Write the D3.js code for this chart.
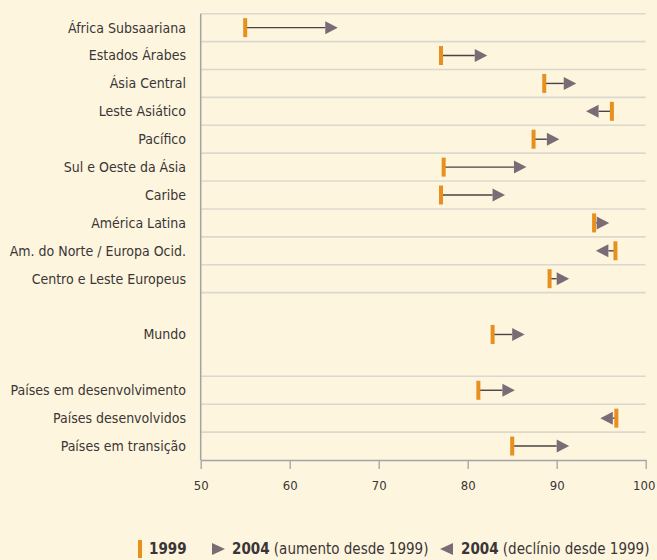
<!DOCTYPE html>
<html><head><meta charset="utf-8">
<script src="https://cdn.jsdelivr.net/npm/d3@7"></script>
<style>
html,body{margin:0;padding:0;background:#fdf5de;}
svg{display:block;}
text{font-family:"Liberation Sans Narrow","DejaVu Sans Condensed","Roboto",sans-serif;fill:#3a3536;}
</style></head>
<body><svg id="c" width="657" height="560"></svg>
<script>
const regions = ["África Subsaariana","Estados Árabes","Ásia Central","Leste Asiático","Pacífico","Sul e Oeste da Ásia","Caribe","América Latina","Am. do Norte / Europa Ocid.","Centro e Leste Europeus"];
const world = ["Mundo"];
const groups = ["Países em desenvolvimento","Países desenvolvidos","Países em transição"];
const categories = regions.concat(world, groups);
const values1999 = [55.0,77.0,88.6,96.2,87.4,77.3,77.0,94.2,96.6,89.2, 82.8, 81.2,96.7,85.0];
const values2004 = [65.4,82.2,92.2,93.3,90.3,86.6,84.2,95.9,94.4,91.4, 86.4, 85.3,94.9,91.4];
const xTicks = [50,60,70,80,90,100];

const svg = d3.select("#c");
const x = d3.scaleLinear().domain([50,100]).range([200.7,645.7]);
const y = d3.scaleLinear().domain([0,16]).range([13.7,460]);

// row position (in row units) for each category
function rowCenter(i){
  if(i < regions.length) return i + 0.5;
  if(i < regions.length + world.length) return regions.length + 1.5;
  return regions.length + 3 + (i - regions.length - world.length) + 0.5;
}
const gridRows = d3.range(0, regions.length+1).concat([13,14,15]);

svg.append("g").selectAll("line").data(gridRows).join("line")
  .attr("x1", x(50)).attr("x2", x(100))
  .attr("y1", d=>y(d)).attr("y2", d=>y(d))
  .attr("stroke","#dcd8cc").attr("stroke-width",1.6);

// x axis
const xAxis = svg.append("g").attr("transform",`translate(0,${y(16)})`)
  .call(d3.axisBottom(x).tickValues(xTicks).tickSize(9).tickSizeOuter(0).tickPadding(12));
xAxis.select(".domain").attr("stroke","#a3a3a8").attr("stroke-width",1.5);
xAxis.selectAll(".tick line").attr("stroke","#a3a3a8").attr("stroke-width",1.3);
xAxis.selectAll(".tick text").attr("font-size",13).attr("fill","#3a3536")
  .attr("font-family",'"Liberation Sans Narrow","DejaVu Sans Condensed",sans-serif');
xAxis.selectAll(".tick text").filter(d=>d===100).attr("dx",-2);

// y axis line
svg.append("line").attr("x1",x(50)).attr("x2",x(50)).attr("y1",y(0)).attr("y2",y(16))
  .attr("stroke","#a3a3a8").attr("stroke-width",1.5);

// labels
svg.append("g").selectAll("text").data(categories).join("text")
  .attr("x",186).attr("y",(d,i)=>y(rowCenter(i)))
  .attr("dy","0.35em").attr("text-anchor","end").attr("font-size",14).text(d=>d);

const triW = 12.5, triH = 13;
const marks = svg.append("g").selectAll("g").data(categories).join("g");
marks.append("line")
  .attr("x1",(d,i)=>x(values1999[i]))
  .attr("x2",(d,i)=>{const dir = values2004[i]>=values1999[i]?1:-1; return x(values2004[i]) - dir*triW;})
  .attr("y1",(d,i)=>y(rowCenter(i))).attr("y2",(d,i)=>y(rowCenter(i)))
  .attr("stroke","#4a4244").attr("stroke-width",1.4);
marks.append("path")
  .attr("d",(d,i)=>{
    const dir = values2004[i]>=values1999[i]?1:-1;
    const tx = x(values2004[i]), cy = y(rowCenter(i));
    return `M${tx},${cy}L${tx-dir*triW},${cy-triH/2}L${tx-dir*triW},${cy+triH/2}Z`;
  }).attr("fill","#7b6b75");
marks.append("rect")
  .attr("x",(d,i)=>x(values1999[i])-2).attr("y",(d,i)=>y(rowCenter(i))-9.5)
  .attr("width",4).attr("height",19).attr("fill","#e8901e");

// legend
const lg = svg.append("g");
const ly = 549;
lg.append("rect").attr("x",138).attr("y",ly-9).attr("width",4).attr("height",18).attr("fill","#e8901e");
lg.append("text").attr("x",149).attr("y",ly).attr("dy","0.35em").attr("font-size",15).attr("font-weight","bold").text("1999");
lg.append("path").attr("d",`M225,${ly}L212,${ly-6}L212,${ly+6}Z`).attr("fill","#7b6b75");
const t1 = lg.append("text").attr("x",232).attr("y",ly).attr("dy","0.35em").attr("font-size",15);
t1.append("tspan").attr("font-weight","bold").text("2004");
t1.append("tspan").text(" (aumento desde 1999)");
lg.append("path").attr("d",`M440,${ly}L453,${ly-6}L453,${ly+6}Z`).attr("fill","#7b6b75");
const t2 = lg.append("text").attr("x",461).attr("y",ly).attr("dy","0.35em").attr("font-size",15);
t2.append("tspan").attr("font-weight","bold").text("2004");
t2.append("tspan").text(" (declínio desde 1999)");
</script></body></html>
